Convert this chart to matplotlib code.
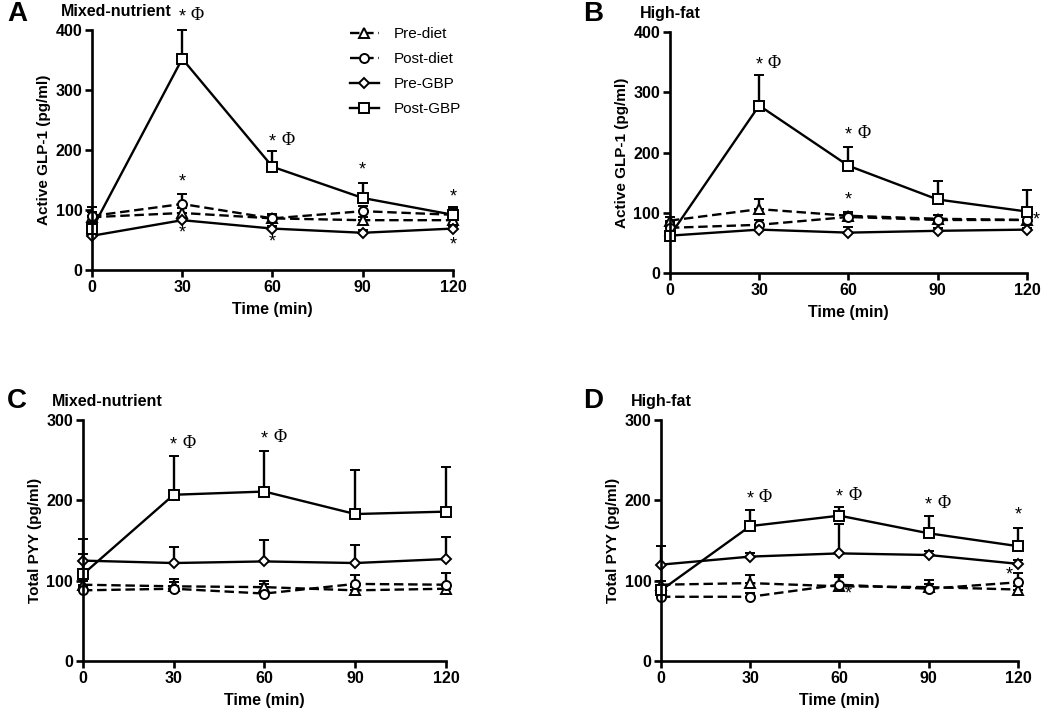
import numpy as np
import matplotlib
matplotlib.use("Agg")
import matplotlib.pyplot as plt

plt.rcParams['font.family'] = ['Liberation Sans', 'DejaVu Sans']

# Время отбора проб
time = [0, 30, 60, 90, 120]
series_names = ["Pre-diet", "Post-diet", "Pre-GBP", "Post-GBP"]

# A: Active GLP-1, mixed-nutrient
a_pre_diet = [88, 95, 86, 83, 83]
a_pre_diet_sem = [8, 8, 6, 6, 6]
a_post_diet = [90, 110, 86, 98, 92]
a_post_diet_sem = [15, 17, 8, 8, 10]
a_pre_gbp = [57, 83, 69, 62, 69]
a_pre_gbp_sem = [5, 6, 5, 5, 5]
a_post_gbp = [68, 352, 172, 120, 92]
a_post_gbp_sem = [10, 48, 26, 25, 13]

# B: Active GLP-1, high-fat
b_pre_diet = [87, 106, 95, 90, 88]
b_pre_diet_sem = [6, 17, 6, 6, 5]
b_post_diet = [75, 80, 93, 88, 88]
b_post_diet_sem = [8, 8, 5, 8, 6]
b_pre_gbp = [62, 72, 67, 70, 72]
b_pre_gbp_sem = [4, 4, 10, 4, 3]
b_post_gbp = [62, 278, 178, 122, 102]
b_post_gbp_sem = [5, 50, 31, 31, 36]

# C: Total PYY, mixed-nutrient
c_pre_diet = [95, 93, 92, 88, 90]
c_pre_diet_sem = [5, 5, 4, 4, 4]
c_post_diet = [88, 90, 84, 96, 95]
c_post_diet_sem = [4, 12, 16, 11, 14]
c_pre_gbp = [125, 122, 124, 122, 127]
c_pre_gbp_sem = [27, 20, 27, 23, 27]
c_post_gbp = [108, 207, 211, 183, 186]
c_post_gbp_sem = [25, 48, 51, 55, 56]

# D: Total PYY, high-fat
d_pre_diet = [95, 97, 93, 92, 89]
d_pre_diet_sem = [5, 10, 14, 9, 5]
d_post_diet = [80, 80, 95, 90, 98]
d_post_diet_sem = [6, 5, 10, 6, 12]
d_pre_gbp = [120, 130, 134, 132, 121]
d_pre_gbp_sem = [23, 5, 37, 5, 5]
d_post_gbp = [88, 168, 181, 159, 143]
d_post_gbp_sem = [6, 20, 11, 21, 22]

# Значимость: (x, y, с Φ или без)
a_marks = [(30, 422, True), (30, 147, False), (30, 61, False), (60, 214, True),
           (60, 46, False), (90, 167, False), (120, 122, False), (120, 42, False)]
b_marks = [(30, 345, True), (60, 229, True), (60, 121, False), (123.3, 88, False)]
c_marks = [(30, 269, True), (60, 276, True)]
d_marks = [(30, 202, True), (60, 204, True), (90, 194, True), (120, 182, False),
           (63, 83, False), (117, 107, False)]

styles = [dict(marker='^', ls='--'), dict(marker='o', ls='--'),
          dict(marker='D', ls='-'), dict(marker='s', ls='-')]
msizes = [6.5, 6.5, 5.5, 6.5]

fig = plt.figure(figsize=(10.5, 7.15), dpi=100)

panels = [
    ([0.0876, 0.6224, 0.3438, 0.3357], "A", (7, 14), "Mixed-nutrient", "Active GLP-1 (pg/ml)", 400,
     [(a_pre_diet, a_pre_diet_sem), (a_post_diet, a_post_diet_sem),
      (a_pre_gbp, a_pre_gbp_sem), (a_post_gbp, a_post_gbp_sem)], a_marks),
    ([0.638, 0.6182, 0.340, 0.337], "B", (583, 14), "High-fat", "Active GLP-1 (pg/ml)", 400,
     [(b_pre_diet, b_pre_diet_sem), (b_post_diet, b_post_diet_sem),
      (b_pre_gbp, b_pre_gbp_sem), (b_post_gbp, b_post_gbp_sem)], b_marks),
    ([0.079, 0.0755, 0.3457, 0.337], "C", (7, 401), "Mixed-nutrient", "Total PYY (pg/ml)", 300,
     [(c_pre_diet, c_pre_diet_sem), (c_post_diet, c_post_diet_sem),
      (c_pre_gbp, c_pre_gbp_sem), (c_post_gbp, c_post_gbp_sem)], c_marks),
    ([0.6295, 0.0755, 0.340, 0.337], "D", (583, 401), "High-fat", "Total PYY (pg/ml)", 300,
     [(d_pre_diet, d_pre_diet_sem), (d_post_diet, d_post_diet_sem),
      (d_pre_gbp, d_pre_gbp_sem), (d_post_gbp, d_post_gbp_sem)], d_marks),
]

axes = []
handles = []
for rect, letter, lpos, meal, ylab, ymax, data, marks in panels:
    ax = fig.add_axes(rect)
    axes.append(ax)
    hs = []
    for (vals, sem), st, ms, name in zip(data, styles, msizes, series_names):
        c = ax.errorbar(time, vals, yerr=[np.zeros(len(sem)), sem], color='black',
                        lw=1.7, mfc='white', mec='black', mew=1.4, ms=ms,
                        capsize=3.5, capthick=1.7, elinewidth=1.7, clip_on=False,
                        dashes=(4, 2) if st['ls'] == '--' else (None, None),
                        label=name, marker=st['marker'], linestyle=st['ls'])
        hs.append(c[0])
    handles.append(hs)
    ax.set_xlim(0, 120)
    ax.set_ylim(0, ymax)
    ax.set_xticks(time)
    ax.set_yticks(np.arange(0, ymax + 1, 100))
    for s in ['top', 'right']:
        ax.spines[s].set_visible(False)
    for s in ['left', 'bottom']:
        ax.spines[s].set_linewidth(1.9)
    ax.tick_params(width=1.9, length=5, labelsize=11.5, pad=2)
    for lbl in ax.get_xticklabels() + ax.get_yticklabels():
        lbl.set_fontweight('bold')
    ax.set_xlabel("Time (min)", fontsize=11.5, fontweight='bold', labelpad=5)
    ax.set_ylabel(ylab, fontsize=11, fontweight='bold', labelpad=3)
    fig.text(lpos[0] / 1050, 1 - lpos[1] / 715, letter, fontsize=20,
             fontweight='bold', ha='left', va='center')
    ax.text(-0.085, 1.077, meal, transform=ax.transAxes,
            fontsize=11.5, fontweight='bold', ha='left', va='center')
    for x, y, phi in marks:
        ax.text(x, y, "*", fontsize=13, ha='center', va='center', clip_on=False)
        if phi:
            ax.annotate("Φ", (x, y), xytext=(11, 1), textcoords='offset points',
                        fontsize=13, ha='center', va='center', annotation_clip=False,
                        family=['Liberation Serif', 'DejaVu Serif'])

leg = axes[0].legend(handles[0], series_names, loc='upper left',
                     bbox_to_anchor=(0.333, 0.962), numpoints=1,
                     bbox_transform=fig.transFigure, frameon=False, fontsize=11,
                     handlelength=1.9, handletextpad=1.0, labelspacing=0.72,
                     borderpad=0, borderaxespad=0)

fig.savefig("out.png", dpi=100)
